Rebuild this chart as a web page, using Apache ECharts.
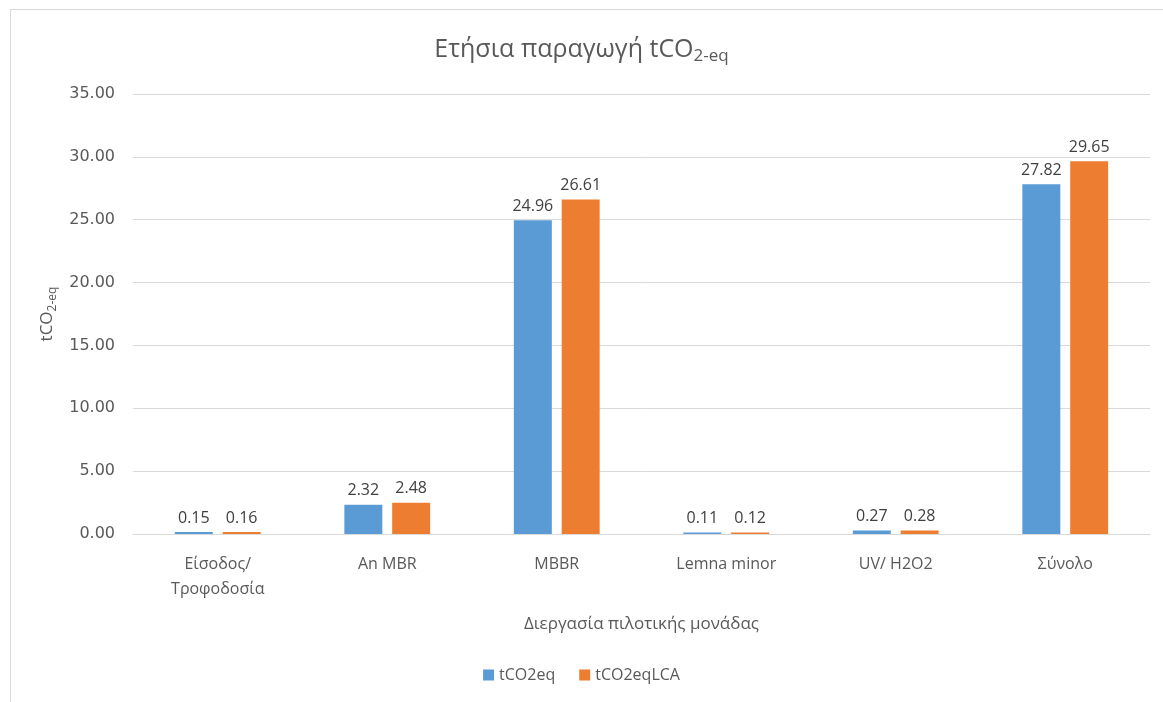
<!DOCTYPE html>
<html>
<head>
<meta charset="utf-8">
<script src="https://cdn.jsdelivr.net/npm/echarts@6/dist/echarts.min.js"></script>
<style>
  html, body { margin: 0; padding: 0; background: #fff; }
  #chart { width: 1163px; height: 702px; }
</style>
</head>
<body>
<div id="chart"></div>
<script>
const categories = ['Είσοδος/\nΤροφοδοσία', 'An MBR', 'MBBR', 'Lemna minor', 'UV/ H2O2', 'Σύνολο']
const tco2eq = [0.15, 2.32, 24.96, 0.11, 0.27, 27.82]
const tco2eqLCA = [0.16, 2.48, 26.61, 0.12, 0.28, 29.65]
const seriesNames = ['tCO2eq', 'tCO2eqLCA']

const font = '"Open Sans", "Noto Sans", sans-serif'
const chart = echarts.init(document.getElementById('chart'))

const labelOpt = {
  show: true,
  position: 'top',
  distance: 6,
  color: '#404040',
  fontSize: 16,
  fontFamily: font,
  formatter: p => p.value.toFixed(2)
}

chart.setOption({
  animation: false,
  textStyle: { fontFamily: font },
  graphic: [{
    type: 'rect',
    left: 8,
    top: 7,
    shape: { width: 1200, height: 720 },
    style: { fill: 'none', stroke: '#d9d9d9', lineWidth: 1 },
    silent: true
  }],
  title: {
    text: '{m|Ετήσια παραγωγή tCO}{s|2-eq}',
    left: 'center',
    top: 29,
    textStyle: {
      fontWeight: 'normal',
      rich: {
        m: { fontSize: 25, color: '#595959', fontFamily: font, fontWeight: 'normal' },
        s: { fontSize: 17, color: '#595959', fontFamily: font, fontWeight: 'normal', padding: [14, 0, 0, 0] }
      }
    }
  },
  legend: {
    data: seriesNames,
    bottom: 14,
    left: 'center',
    icon: 'rect',
    itemWidth: 11,
    itemHeight: 11,
    itemGap: 24,
    textStyle: { fontSize: 16, color: '#595959', fontFamily: font }
  },
  grid: {
    left: 133,
    right: 13,
    top: 94,
    bottom: 168
  },
  xAxis: {
    type: 'category',
    data: categories,
    name: 'Διεργασία πιλοτικής μονάδας',
    nameLocation: 'middle',
    nameGap: 82,
    nameTextStyle: { fontSize: 17, color: '#595959', fontFamily: font },
    axisLine: { show: true, lineStyle: { color: '#d9d9d9' } },
    axisTick: { show: false },
    axisLabel: { fontSize: 16, color: '#595959', margin: 18, lineHeight: 25, fontFamily: font }
  },
  yAxis: {
    type: 'value',
    min: 0,
    max: 35,
    interval: 5,
    name: '{m|tCO}{s|2-eq}',
    nameLocation: 'middle',
    nameGap: 72,
    nameRotate: 90,
    nameTextStyle: {
      rich: {
        m: { fontSize: 17, color: '#595959', fontFamily: font },
        s: { fontSize: 12, color: '#595959', fontFamily: font, padding: [10, 0, 0, 0] }
      }
    },
    axisLine: { show: false },
    axisTick: { show: false },
    axisLabel: {
      fontSize: 16,
      color: '#595959',
      margin: 18,
      fontFamily: '"DejaVu Sans", sans-serif',
      formatter: v => v.toFixed(2)
    },
    splitLine: { lineStyle: { color: '#d9d9d9' } }
  },
  series: [
    {
      name: seriesNames[0],
      type: 'bar',
      data: tco2eq,
      barWidth: '22.4%',
      barGap: '26%',
      itemStyle: { color: '#5b9bd5' },
      label: labelOpt
    },
    {
      name: seriesNames[1],
      type: 'bar',
      data: tco2eqLCA,
      barWidth: '22.4%',
      itemStyle: { color: '#ed7d31' },
      label: labelOpt
    }
  ]
})
</script>
</body>
</html>
